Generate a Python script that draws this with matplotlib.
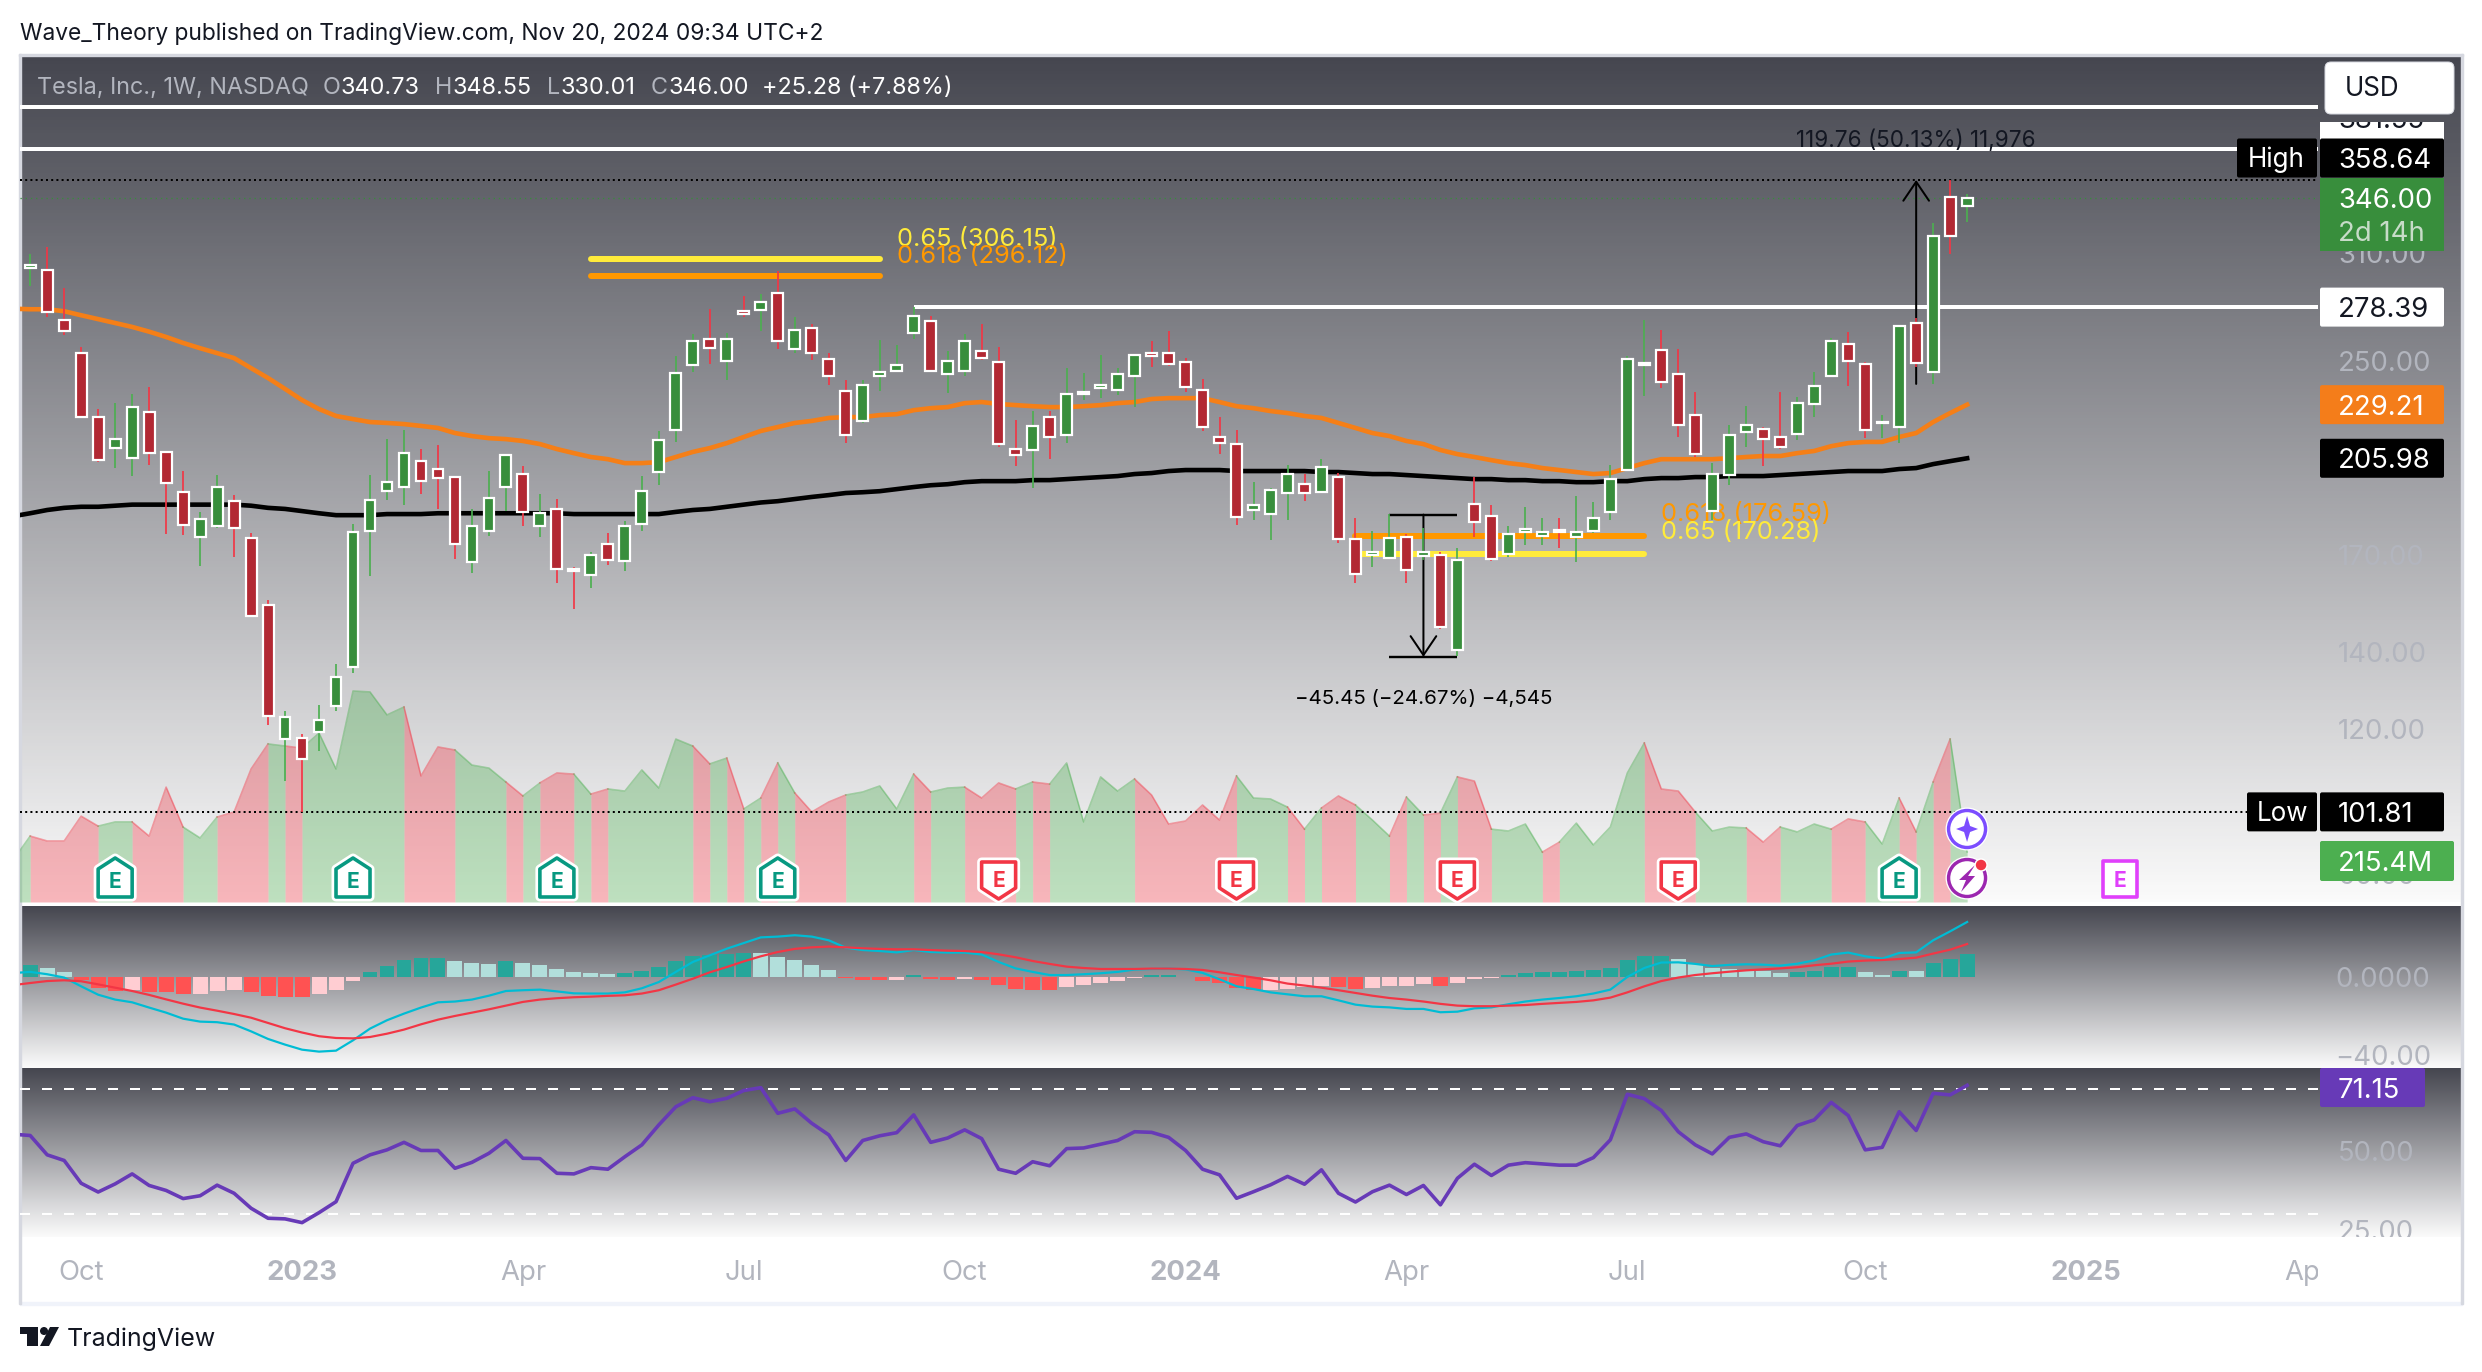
import numpy as np
import matplotlib
matplotlib.use("Agg")
import matplotlib.pyplot as plt
from matplotlib.colors import LinearSegmentedColormap
from matplotlib.patches import Rectangle, Polygon, Circle, FancyBboxPatch
from matplotlib.ticker import FixedLocator, FixedFormatter, NullLocator
from matplotlib.transforms import Bbox

# ---------- weekly OHLC (index 0 = week of 2022-09-12) ----------
opens = [300.9,299.7,271.3,254.0,223.6,210.2,206.0,225.8,208.6,192.5,
176.0,179.9,189.1,175.7,153.7,117.7,118.0,119.3,125.7,135.9,
178.1,192.9,194.5,204.8,201.6,198.4,167.4,178.1,194.5,199.6,
179.9,186.2,165.1,163.2,173.6,167.8,180.7,200.4,217.9,248.0,
261.2,250.0,276.2,276.7,286.3,256.0,267.0,251.0,235.5,221.9,
242.6,245.0,264.3,270.8,243.5,245.0,255.0,249.5,209.8,209.4,
223.6,215.7,234.1,236.9,236.0,242.6,254.0,254.0,249.5,236.0,
214.9,211.9,185.8,184.3,192.2,195.6,192.5,198.4,175.3,169.8,
168.8,176.0,169.5,169.8,140.5,188.0,183.6,170.1,177.8,176.4,
178.5,176.0,178.1,185.1,201.2,248.0,255.5,243.5,224.5,185.4,
199.2,217.0,218.3,214.9,216.2,229.5,242.6,258.6,248.5,221.0,
219.2,269.7,244.5,346.7,340.73]
highs = [309.4,313.8,289.2,257.1,227.2,229.9,234.1,237.4,208.6,200.8,
185.1,199.2,191.4,177.4,155.3,124.5,118.9,126.0,136.7,180.7,
199.2,214.0,217.9,209.8,211.5,198.4,186.2,200.8,207.3,202.8,
191.8,189.9,165.8,170.8,177.4,181.7,198.8,217.5,252.5,263.8,
277.3,264.3,284.5,285.7,299.1,272.9,269.1,254.0,240.7,240.7,
260.7,258.1,278.39,273.5,255.0,263.8,269.1,257.1,222.3,226.3,
226.3,246.5,244.0,253.0,246.5,253.0,260.2,265.4,251.5,241.2,
223.6,217.9,196.4,194.1,203.2,199.6,205.6,200.0,182.8,178.1,
184.3,177.1,179.2,170.8,172.2,198.4,187.6,179.9,186.9,182.8,
182.8,191.0,188.8,203.2,252.5,271.3,265.9,256.0,235.0,204.0,
220.1,228.5,219.2,235.0,232.7,244.5,261.7,264.8,249.5,224.5,
268.0,272.4,329.1,358.64,348.55]
lows = [290.3,272.9,263.3,223.2,204.4,202.0,198.8,203.2,177.1,176.7,
166.1,179.2,169.1,150.4,121.0,108.3,101.81,115.0,124.5,134.3,
162.9,189.5,187.6,191.8,186.2,168.4,163.8,176.4,185.4,179.9,
176.0,160.6,152.5,159.0,166.4,164.5,178.1,195.2,212.8,244.5,
248.5,240.7,272.9,265.4,256.0,254.0,250.5,238.3,212.3,221.0,
235.5,244.5,261.2,244.5,234.6,242.6,250.5,210.7,202.8,194.1,
205.6,212.3,231.3,232.2,233.6,228.1,247.0,247.5,235.0,217.5,
207.7,180.3,182.1,175.0,182.1,189.1,192.5,174.0,160.6,165.8,
168.8,160.6,168.1,146.6,138.9,176.0,167.8,169.1,173.3,173.3,
172.2,167.4,177.4,182.1,201.2,233.2,236.9,214.9,206.4,182.1,
195.2,210.7,202.8,209.8,213.6,223.6,242.6,237.9,214.4,214.4,
212.3,247.0,238.8,309.4,330.01]
closes = [302.7,275.6,265.4,223.6,205.2,214.0,228.1,208.1,196.0,180.3,
182.5,194.5,179.2,150.4,123.2,123.0,113.1,122.2,133.2,177.8,
189.5,196.4,208.1,196.8,198.0,173.6,179.9,190.3,207.3,185.1,
184.7,165.1,164.5,169.8,168.1,179.9,192.9,213.6,244.0,260.2,
256.5,261.2,274.6,281.2,260.2,265.9,254.0,242.6,215.7,238.3,
244.5,248.0,273.5,245.0,250.0,260.2,251.5,211.9,207.3,219.7,
214.9,234.1,235.0,238.3,243.5,253.0,252.5,248.5,237.4,219.2,
212.3,183.2,187.6,193.3,199.6,192.2,202.4,175.3,163.5,170.8,
175.7,164.8,170.8,147.2,168.1,181.4,168.4,177.1,178.9,177.8,
177.8,177.8,182.8,197.6,251.0,249.0,239.8,220.1,207.7,199.6,
215.7,220.1,214.0,210.7,229.9,237.9,260.2,250.0,217.9,221.4,
268.0,249.0,320.7,320.7,346.00]

# Line series carry one extra leading week (index -1), off the left edge
ma_orange = [277.5,277.2,277.2,276.1,273.9,271.8,269.7,267.6,265.1,262.3,259.2,
256.5,254.0,251.5,246.5,241.7,236.5,231.3,227.2,224.1,222.7,
221.4,221.0,220.5,219.7,218.8,216.6,215.3,214.4,214.0,213.2,
211.9,209.8,208.1,206.5,205.6,204.0,204.0,204.4,206.5,208.6,
210.2,212.3,214.9,217.5,219.2,221.0,221.9,223.2,
223.6,223.6,224.5,224.9,226.7,227.6,228.1,229.9,230.4,229.5,
229.0,228.5,228.1,228.1,228.5,229.0,229.9,230.4,231.8,232.2,
232.2,232.2,230.4,228.5,227.6,226.3,225.4,224.1,223.2,221.0,
218.8,216.6,215.3,213.2,211.9,209.4,207.7,206.5,205.2,204.0,
203.2,202.0,201.2,200.4,199.6,200.0,202.0,204.0,
205.6,205.6,205.6,205.6,206.0,206.5,206.9,206.9,208.1,209.0,
211.0,212.3,212.8,212.8,214.9,216.6,221.4,225.4,229.21]
ma_black = [183.5,184.6,185.8,186.6,187.0,187.0,187.4,187.8,187.8,187.8,187.8,
187.8,187.8,187.8,187.4,186.6,186.2,185.4,184.6,183.9,183.9,
183.9,184.3,184.3,184.3,184.6,184.6,184.6,184.6,184.6,184.6,
184.6,184.6,184.3,184.3,184.3,184.3,184.3,184.3,185.1,185.8,
186.2,187.0,187.8,188.6,189.1,189.9,190.7,191.4,
192.2,192.5,192.9,193.7,194.5,195.2,195.6,196.4,196.8,196.8,
196.8,197.2,197.2,197.6,198.0,198.4,198.8,199.6,200.0,200.8,
201.2,201.2,201.2,200.8,200.8,200.8,200.8,200.8,200.4,200.4,
200.0,199.6,199.6,199.2,198.8,198.4,198.0,197.6,197.6,197.2,
197.2,196.8,196.8,196.4,196.4,196.8,196.8,197.6,
198.0,198.0,198.4,198.4,198.8,198.8,198.8,199.2,199.6,200.0,
200.4,200.8,200.8,200.8,201.6,202.0,203.6,204.8,205.98]
# Volume in millions of shares
volume = [181,284,263,263,370,327,345,345,284,495,323,
276,366,388,573,681,672,663,728,573,909,
905,806,840,543,668,655,590,577,517,457,
513,556,551,465,487,478,569,491,702,672,
595,620,401,448,599,470,388,431,
461,474,500,401,551,474,491,495,448,513,
487,517,508,599,345,539,478,530,461,336,
349,418,353,543,448,444,409,314,405,457,
418,353,284,452,375,383,539,521,314,306,
336,215,258,340,246,323,556,685,
487,478,388,306,323,319,258,323,302,336,
314,358,345,250,448,302,517,702,215.4]
macd_hist = [6.0,4.4,2.4,-1.7,-5.6,-7.2,-6.8,-7.7,-7.8,-8.9,
-8.8,-7.4,-6.8,-7.7,-9.9,-10.4,-10.5,-8.9,-6.8,-2.2,
2.4,5.8,8.5,9.6,9.7,8.0,7.0,6.9,8.0,7.0,
6.0,3.9,2.4,1.9,1.4,1.9,2.9,5.0,8.0,10.6,
11.1,12.0,12.2,12.1,10.1,8.5,6.0,3.4,-0.5,-1.7,
-1.8,-1.7,0.9,-1.2,-1.7,-1.2,-1.7,-4.3,-6.3,-6.8,
-6.9,-5.3,-4.3,-3.2,-2.2,-0.7,0.9,0.9,-0.2,-2.2,
-3.2,-5.8,-6.8,-6.7,-6.3,-5.3,-4.8,-5.3,-6.3,-5.8,
-4.8,-4.7,-3.8,-4.8,-3.2,-1.2,-0.7,0.9,1.9,2.4,
2.4,2.9,3.4,4.4,8.5,10.6,10.6,9.1,6.5,4.4,
3.9,2.9,2.85,1.9,2.4,2.9,5.0,5.0,2.4,0.9,
2.9,2.85,7.0,9.1,11.6]
macd_line = [2.0,2.6,1.4,-0.3,-4.8,-9.1,-11.6,-13.0,-15.7,-18.3,-21.4,
-22.9,-23.2,-24.4,-27.9,-31.8,-34.7,-37.3,-38.3,-37.8,-32.5,
-26.5,-22.2,-18.8,-15.7,-13.0,-12.6,-11.6,-9.6,-7.2,-6.8,
-6.5,-7.4,-8.4,-8.5,-8.5,-7.9,-5.8,-2.6,2.6,7.7,
11.1,14.5,17.4,20.3,20.7,21.4,20.7,18.8,15.0,13.8,
13.3,12.6,13.8,12.8,12.5,12.5,11.5,7.7,4.4,2.6,
1.0,1.0,1.4,1.9,2.6,3.8,4.1,4.3,3.9,2.1,
-1.2,-4.8,-6.2,-7.9,-8.9,-9.9,-9.9,-12.0,-14.2,-15.2,
-15.6,-16.4,-16.4,-18.1,-17.8,-16.1,-15.6,-14.0,-12.6,-11.6,
-10.8,-9.9,-8.5,-6.5,0.0,4.6,7.4,7.5,6.7,5.6,
6.2,6.5,6.3,5.8,6.8,8.5,11.5,12.5,10.6,9.4,
12.3,12.6,18.8,23.4,28.2]
macd_signal = [-4.2,-3.1,-2.1,-1.7,-2.2,-3.8,-5.5,-7.2,-9.2,-11.5,-13.7,
-15.7,-17.3,-19.0,-20.9,-23.6,-26.3,-28.5,-30.4,-31.3,-31.5,
-30.8,-29.1,-27.0,-24.3,-21.9,-20.0,-18.3,-16.6,-14.7,-12.8,
-11.6,-10.9,-10.4,-10.1,-9.7,-9.4,-8.5,-6.8,-3.9,-0.9,
2.4,5.1,8.0,10.6,12.8,14.4,15.2,15.6,15.2,14.7,
14.4,14.2,14.2,13.8,13.5,13.3,12.8,11.6,10.1,8.2,
6.7,5.3,4.6,4.1,4.1,4.1,4.3,4.3,4.1,3.6,
2.4,1.0,-0.3,-1.7,-3.4,-4.4,-5.5,-6.8,-8.2,-9.6,
-10.8,-11.6,-12.6,-13.8,-14.7,-15.0,-15.0,-14.7,-14.4,-13.8,
-13.3,-12.8,-12.0,-10.6,-7.9,-4.8,-2.1,-0.3,1.0,1.9,
2.7,3.4,3.9,4.4,5.0,6.0,6.8,7.9,8.4,8.7,
9.2,9.9,12.0,14.0,16.9]
rsi = [55.5,55.1,48.9,47.1,39.8,37.0,39.6,42.8,39.1,37.5,34.9,
35.8,39.2,36.6,31.8,28.6,28.4,27.2,30.4,33.9,46.2,
48.9,50.5,52.9,50.3,50.3,44.6,46.5,49.4,53.5,47.8,
47.7,43.0,42.8,44.8,44.3,48.3,52.1,58.5,64.3,67.2,
65.9,67.0,69.5,70.4,62.2,63.6,59.0,55.3,47.1,53.5,
55.0,56.0,61.7,52.9,54.3,56.9,54.1,44.3,43.0,46.7,
45.4,50.9,51.1,52.3,53.5,56.3,56.1,54.5,50.3,44.3,
42.5,35.0,37.1,39.3,42.0,39.5,44.1,36.6,33.8,37.1,
39.2,36.2,39.1,32.9,41.4,45.9,42.3,45.6,46.4,46.0,
45.6,45.6,48.0,53.7,68.3,66.9,63.1,56.3,52.1,49.2,
54.5,55.6,53.1,51.8,58.3,60.1,65.7,61.5,50.5,51.3,
62.7,56.7,68.6,68.1,71.15]

# Time axis
date_ticks = [3,16,29,42,55,68,81,94,108,121,134]
date_labels = ["Oct","2023","Apr","Jul","Oct","2024","Apr","Jul","Oct","2025","Apr"]
year_labels = {"2023","2024","2025"}
# Price / indicator scales
price_ticks = [310,250,170,140,120,100,90]
macd_ticks = [0,-40]
rsi_ticks = [50,25]
# Horizontal levels
high_price, low_price, last_price = 358.64, 101.81, 346.00
top_levels = [414.76,381.55]
resistance = 278.39
fib_upper = {"0.65":306.15,"0.618":296.12}
fib_lower = {"0.618":176.59,"0.65":170.28}
earn_green = [5,19,31,44,110]
earn_red = [57,71,84,97]
earn_next = [123]

W,H = 2482,1372
FONT = ["Inter","DejaVu Sans"]
plt.rcParams["font.family"] = FONT
def px(s): return s*72/100
GREEN,RED,BODY_G,BODY_R = "#4caf50","#f23645","#388e3c","#b22833"
TICK = "#b2b5be"
YEL,ORG = "#ffeb3b","#ff9800"
SCALE = 27.5
fig = plt.figure(figsize=(W/100,H/100),dpi=100,facecolor="white")

def pane(x0,y0,x1,y1,z):
    a = fig.add_axes([x0/W,1-y1/H,(x1-x0)/W,(y1-y0)/H],zorder=z)
    a.patch.set_visible(False)
    for s in a.spines.values(): s.set_visible(False)
    a.tick_params(length=0)
    return a

# background: gradients
bg = pane(0,0,W,H,0); bg.set_xticks([]); bg.set_yticks([])
cm = LinearSegmentedColormap.from_list("g",["#45464f","#fbfbfb"])
grad = np.linspace(0,1,256).reshape(-1,1)
for y0,y1 in [(54,902),(906,1068),(1068,1237)]:
    bg.imshow(grad,extent=(20,2462,y1,y0),cmap=cm,aspect="auto",zorder=1,origin="upper")
bg.set_xlim(0,W); bg.set_ylim(H,0)
bg.add_patch(Rectangle((20,1302),2442,2.5,color="#f0f3fa",zorder=2))
bg.add_patch(Rectangle((19,54),2444,1.5,color="#d6d8e0",zorder=2))
bg.add_patch(Rectangle((19,54),1.5,1250,color="#d6d8e0",zorder=2))
bg.add_patch(Rectangle((2461,54),1.5,1250,color="#d6d8e0",zorder=2))

XL = (-0.6,134.65)
bars = np.arange(len(opens)); lead = np.arange(-1,len(opens))
o,h,l,c = map(np.array,(opens,highs,lows,closes))
up = c>=o

# volume: one polygon per run of same-coloured weeks
av = pane(20,54,2318,902,1); av.set_xlim(*XL); av.set_ylim(0,3653); av.set_xticks([]); av.set_yticks([])
v = np.array(volume)
start = 0
for i in bars:
    if i==bars[-1] or up[i+1]!=up[i]:
        col = GREEN if up[i] else RED
        xs = lead[start:i+2]; ys = v[start:i+2]
        av.fill_between(xs,ys,0,color=col,alpha=.35,lw=0)
        av.plot(xs,ys,color=col,alpha=.45,lw=px(1.6))
        start = i+1

# price
ax = pane(20,54,2318,902,2)
ax.set_yscale("log"); ax.set_xlim(*XL)
ax.set_ylim(358.64*np.exp(-722/501.8),358.64*np.exp(126/501.8))
ax.yaxis.tick_right()
ax.yaxis.set_major_locator(FixedLocator(price_ticks))
ax.yaxis.set_major_formatter(FixedFormatter([f"{p:.2f}" for p in price_ticks]))
ax.yaxis.set_minor_locator(NullLocator())
ax.tick_params(axis="y",pad=px(20),labelsize=px(SCALE),labelcolor=TICK,length=0,which="both")
ax.set_xticks([])

for p in top_levels: ax.axhline(p,color="white",lw=px(4),zorder=2)
ax.hlines(resistance,52,XL[1],color="white",lw=px(4),zorder=2)
ax.axhline(high_price,color="black",lw=px(2),ls=(0,(1,1.6)),zorder=2)
ax.axhline(low_price,color="black",lw=px(2),ls=(0,(1,1.6)),zorder=2)
ax.axhline(last_price,color=BODY_G,lw=px(1.3),ls=(0,(1,3)),zorder=2)

for rng,lv in (((33,50),fib_upper),((78,95),fib_lower)):
    for k,p in lv.items():
        ax.plot(rng,[p,p],color=YEL if k=="0.65" else ORG,lw=px(6),solid_capstyle="round",zorder=2)
def fiblabel(xi,dy,k,p):
    ax.annotate(f"{k} ({p:.2f})",(xi,p),xytext=(0,dy),textcoords="offset pixels",va="center",
                color=YEL if k=="0.65" else ORG,fontsize=px(25.4),zorder=1.5)
fiblabel(51,20,"0.65",306.15); fiblabel(51,20,"0.618",296.12)
fiblabel(96,21,"0.618",176.59); fiblabel(96,21,"0.65",170.28)

ax.plot(lead,ma_orange,color="#f57f17",lw=px(4.6),zorder=2.2)
ax.plot(lead,ma_black,color="black",lw=px(4.6),zorder=2.2)

# measure tools
ms_top,ms_bot = 184.1,138.65
ax.hlines([ms_top,ms_bot],80,84,color="black",lw=px(2.4),zorder=2.4)
arrow = dict(arrowstyle="->,head_width=0.42,head_length=0.62",color="black",lw=px(2),shrinkA=0,shrinkB=0,mutation_scale=22)
ax.annotate("",(82,ms_bot),(82,ms_top),arrowprops=arrow,zorder=2.4)
ax.annotate("",(111,high_price),(111,238.88),arrowprops=arrow,zorder=2.4)
ax.annotate("\u221245.45 (\u221224.67%) \u22124,545",(82,ms_bot),xytext=(0,-42),textcoords="offset pixels",
            ha="center",va="center",fontsize=px(20.5),color="black")
ax.annotate("119.76 (50.13%) 11,976",(111,high_price),xytext=(0,39),textcoords="offset pixels",
            ha="center",va="center",fontsize=px(22.5),color="#131722")

# candles
ax.vlines(bars,l,h,colors=[GREEN if u else RED for u in up],lw=px(1.7),zorder=3)
ax.bar(bars,np.abs(c-o),bottom=np.minimum(o,c),width=0.64,color=[BODY_G if u else BODY_R for u in up],
       edgecolor="white",linewidth=px(2.2),zorder=3.5)

# MACD
am = pane(20,906,2318,1068,2); am.set_xlim(*XL); am.set_ylim(-46.7,36.4); am.set_xticks([])
am.yaxis.tick_right(); am.set_yticks(macd_ticks); am.set_yticklabels(["0.0000","\u221240.00"])
am.tick_params(axis="y",pad=px(17),labelsize=px(SCALE),labelcolor=TICK)
hv = np.array(macd_hist); cols=[]
for i,x in enumerate(hv):
    pv = hv[i-1] if i else x
    if x>=0: cols.append("#26a69a" if x>=pv else "#b2dfdb")
    else: cols.append("#ff5252" if x<=pv else "#ffcdd2")
am.bar(bars,hv,width=0.88,color=cols,zorder=2)
am.plot(lead,macd_line,color="#00bcd4",lw=px(2.2),zorder=3)
am.plot(lead,macd_signal,color=RED,lw=px(2.2),zorder=3)

# RSI
ar = pane(20,1068,2318,1237,2); ar.set_xlim(*XL); ar.set_ylim(22.6,76.7)
ar.yaxis.tick_right(); ar.set_yticks(rsi_ticks); ar.set_yticklabels(["50.00","25.00"])
ar.tick_params(axis="y",pad=px(20),labelsize=px(SCALE),labelcolor=TICK)
for lb in ar.get_yticklabels():
    lb.set_clip_on(True); lb.set_clip_box(Bbox([[2318,H-1237],[2462,H-1068]]))
for lv in (70,30): ar.axhline(lv,color="white",lw=px(2),ls=(0,(5,6)),zorder=1)
ar.plot(lead,rsi,color="#673ab7",lw=px(3.6),zorder=3)
ar.set_xticks(date_ticks); ar.set_xticklabels(date_labels)
ar.tick_params(axis="x",pad=px(23),labelsize=px(SCALE),labelcolor=TICK)
for lb in ar.get_xticklabels():
    lb.set_clip_on(True); lb.set_clip_box(Bbox([[20,0],[2318,H]]))
    if lb.get_text() in year_labels: lb.set_fontweight("bold")

# overlay ui
ui = pane(0,0,W,H,5); ui.set_xlim(0,W); ui.set_ylim(H,0); ui.set_xticks([]); ui.set_yticks([])
def T(x,y,s,col="white",size=SCALE,ha="left",**k):
    # y is the vertical middle of the capitals/digits
    return ui.text(x,y+0.362*size,s,color=col,fontsize=px(size),ha=ha,va="baseline",**k)

def price_y(a,val):
    return H-a.transData.transform((0,val))[1]
fig.canvas.draw()
def tag(a,val,text,fc,tc="white",x0=2320,x1=2444,cy=None):
    y = price_y(a,val) if cy is None else cy
    ui.add_patch(FancyBboxPatch((x0,y-19.5),x1-x0,39,boxstyle="round,pad=0,rounding_size=2",fc=fc,ec="none",zorder=5))
    T(2338,y,text,tc,zorder=6)
    return y
# clipped label
ui.add_patch(Rectangle((2320,122),124,18,fc="white",ec="none",zorder=5))
t = T(2338,118,"381.55","#131722",zorder=5.5); t.set_clip_on(True)
t.set_clip_path(Rectangle((2320,122),124,18,transform=ui.transData))
# USD
ui.add_patch(FancyBboxPatch((2325,62),129,52,boxstyle="round,pad=0,rounding_size=6",fc="white",ec="#d6d8e0",lw=px(1),zorder=5))
T(2345,87,"USD","#131722",size=26,zorder=6)
y = tag(ax,high_price,"358.64","black",cy=158)
ui.add_patch(FancyBboxPatch((2237,y-19.5),80,39,boxstyle="round,pad=0,rounding_size=2",fc="black",ec="none",zorder=5))
T(2248,y,"High",size=26,zorder=6)
ui.add_patch(Rectangle((2320,178),124,73,fc=BODY_G,ec="none",zorder=5))
T(2338,198,"346.00",zorder=6); T(2338,231,"2d 14h","#c7dcc8",zorder=6)
tag(ax,resistance,"278.39","white","#131722")
tag(ax,ma_orange[-1],"229.21","#f47d1a")
tag(ax,ma_black[-1],"205.98","black")
y = tag(ax,low_price,"101.81","black")
ui.add_patch(FancyBboxPatch((2247,y-19.5),70,39,boxstyle="round,pad=0,rounding_size=2",fc="black",ec="none",zorder=5))
T(2257,y,"Low",size=26,zorder=6)
ui.add_patch(FancyBboxPatch((2320,841),134,40,boxstyle="round,pad=0,rounding_size=2",fc=GREEN,ec="none",zorder=5))
T(2338,861,"215.4M",zorder=6)
ui.add_patch(FancyBboxPatch((2320,1068),105,39,boxstyle="round,pad=0,rounding_size=2",fc="#673ab7",ec="none",zorder=5))
T(2338,1088,"71.15",zorder=6)

# header / legend
T(20,32,"Wave_Theory published on TradingView.com, Nov 20, 2024 09:34 UTC+2","#131722",size=22.8)
T(37,86,"Tesla, Inc., 1W, NASDAQ",TICK,size=23.4)
for x,s,col in [(323,"O",TICK),(341,"340.73","white"),(435,"H",TICK),(453,"348.55","white"),
                (547,"L",TICK),(561,"330.01","white"),(651,"C",TICK),(668,"346.00","white"),
                (762,"+25.28 (+7.88%)","white")]:
    T(x,86,s,col,size=23.4)

# earnings / event markers
def xpx(i): return 30.2+16.99*i
def badge(i,kind):
    cx = xpx(i)
    if kind=="g": pts=[(cx-17,869),(cx,858),(cx+17,869),(cx+17,897),(cx-17,897)]; col="#089981"; ey=880
    elif kind=="r": pts=[(cx-17,862),(cx+17,862),(cx+17,888),(cx,899),(cx-17,888)]; col=RED; ey=879
    else: pts=[(cx-17,861),(cx+17,861),(cx+17,897),(cx-17,897)]; col="#e040fb"; ey=879
    if kind!="p":
        ui.add_patch(Polygon(pts,closed=True,fc="white",ec="white",lw=px(9),joinstyle="round",zorder=4))
    ui.add_patch(Polygon(pts,closed=True,fc="white",ec=col,lw=px(3.6),joinstyle="round",zorder=4.1))
    T(cx,ey,"E",col,size=21,ha="center",fontweight="bold",zorder=4.2)
for i in earn_green: badge(i,"g")
for i in earn_red: badge(i,"r")
for i in earn_next: badge(i,"p")
cx = xpx(114)
ui.add_patch(Circle((cx,829),20.5,fc="white",ec="white",lw=px(2),zorder=4))
ui.add_patch(Circle((cx,829),18.5,fc="white",ec="#7c4dff",lw=px(3.4),zorder=4.1))
ui.add_patch(Polygon([(cx,816),(cx+3,826),(cx+11,829),(cx+3,832),(cx,842),(cx-3,832),(cx-11,829),(cx-3,826)],fc="#7c4dff",ec="none",zorder=4.2))
ui.add_patch(Circle((cx,878),20.5,fc="white",ec="white",lw=px(2),zorder=4))
ui.add_patch(Circle((cx,878),18.5,fc="white",ec="#9c27b0",lw=px(3.4),zorder=4.1))
ui.add_patch(Polygon([(cx+8,865),(cx-8,880),(cx-1,880),(cx-6,892),(cx+8,876),(cx+1,876)],fc="#9c27b0",ec="none",zorder=4.2))
ui.add_patch(Circle((cx+14,865),6,fc=RED,ec="white",lw=px(1.5),zorder=4.3))

# footer
K="#131722"
ui.add_patch(Polygon([(20,1327),(38,1327),(38,1346),(27,1346),(27,1334),(20,1334)],fc=K,ec="none"))
ui.add_patch(Circle((44,1331),4,fc=K,ec="none"))
ui.add_patch(Polygon([(50,1327),(59,1327),(49,1346),(40,1346)],fc=K,ec="none"))
T(67,1337,"TradingView",K,size=25)
fig.savefig("out.png",dpi=100,facecolor="white")
